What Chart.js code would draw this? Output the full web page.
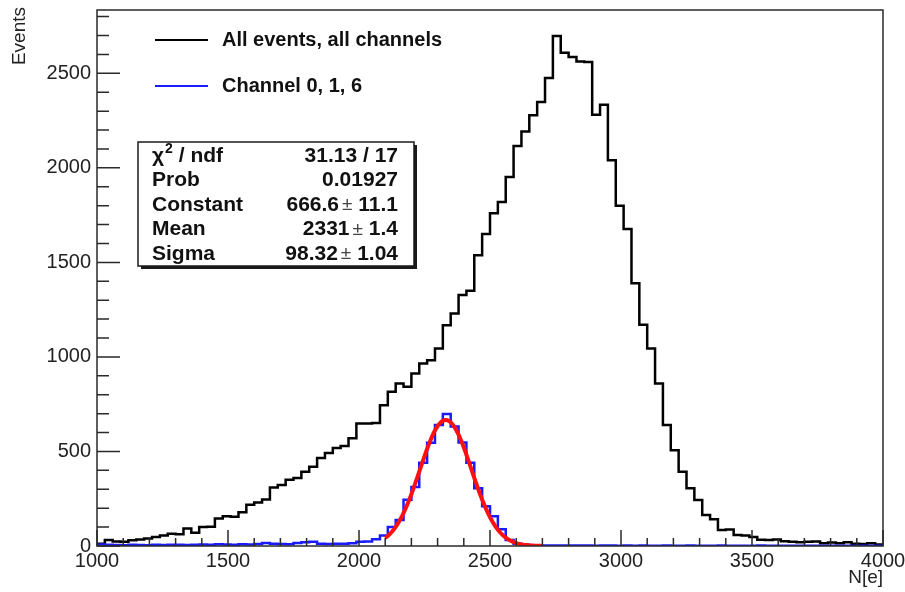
<!DOCTYPE html>
<html lang="en">
<head>
    <meta charset="UTF-8">
    <title>N[e] distribution</title>
    <script src="https://cdn.jsdelivr.net/npm/chart.js"></script>
    <style>
        body {
            margin: 0;
            background-color: #ffffff;
        }

        .chart-container {
            position: relative;
            width: 905px;
            height: 592px;
        }
    </style>
</head>
<body>
    <div class="chart-container">
        <canvas id="histChart" width="905" height="592"></canvas>
    </div>

    <script>
        // Binning: 100 bins of 30 e- between 1000 and 4000
        const xMin = 1000;
        const xMax = 4000;
        const binWidth = 30;
        const yMax = 2835;
        const tickStep = 500;

        const xTickValues = [1000, 1500, 2000, 2500, 3000, 3500, 4000];
        const yTickValues = [0, 500, 1000, 1500, 2000, 2500];

        // Bin contents, all events / all channels
        const allEvents = [
            12, 32, 24, 22, 30, 35, 40, 48, 55, 65,
            62, 92, 70, 100, 102, 145, 158, 155, 178, 218,
            230, 246, 310, 322, 350, 360, 393, 419, 466, 492,
            518, 529, 570, 648, 648, 650, 745, 816, 860, 842,
            913, 965, 983, 1045, 1168, 1230, 1327, 1350, 1538, 1650,
            1760, 1820, 1952, 2116, 2193, 2278, 2348, 2475, 2697, 2609,
            2586, 2562, 2560, 2281, 2334, 2040, 1800, 1677, 1390, 1170,
            1045, 860, 640, 507, 393, 305, 243, 164, 141, 85,
            87, 58, 55, 47, 33, 32, 35, 25, 22, 20,
            22, 24, 15, 18, 14, 20, 12, 10, 14, 8
        ];

        // Bin contents, channels 0, 1, 6
        const channel016 = [
            8, 6, 5, 4, 6, 5, 4, 6, 5, 7,
            6, 5, 7, 8, 6, 9, 8, 7, 9, 8,
            11, 16, 12, 10, 9, 16, 20, 22, 12, 10,
            12, 12, 14, 22, 24, 36, 56, 100, 137, 245,
            312, 440, 546, 640, 698, 632, 548, 440, 306, 210,
            158, 88, 32, 12, 6, 4, 3, 2, 3, 2,
            2, 3, 2, 1, 2, 2, 1, 2, 1, 2,
            1, 1, 2, 1, 1, 2, 1, 1, 1, 2,
            1, 1, 1, 1, 2, 1, 1, 1, 1, 1,
            1, 1, 1, 1, 1, 1, 1, 1, 1, 1
        ];

        // Gaussian fit of channels 0, 1, 6
        const fitConstant = 666.6;
        const fitMean = 2331;
        const fitSigma = 98.32;
        const fitRange = [2100, 2700];
        const fitPoints = 100;

        const legendLabels = ['All events, all channels', 'Channel 0, 1, 6'];
        const legendColors = ['#000000', '#1a1aff'];

        const statsLabels = ['χ', 'Prob', 'Constant', 'Mean', 'Sigma'];
        const statsValues = ['31.13 / 17', '0.01927', '666.6', '2331', '98.32'];
        const statsErrors = ['', '', '11.1', '1.4', '1.04'];

        const FONT = '"Liberation Sans", Arial, Helvetica, sans-serif';

        // histogram -> stepped line points on the bin low edges
        function histPoints(values) {
            const pts = values.map((v, i) => ({ x: xMin + i * binWidth, y: v }));
            pts.push({ x: xMax, y: values[values.length - 1] });
            return pts;
        }

        function gausPoints() {
            const pts = [];
            const dx = (fitRange[1] - fitRange[0]) / fitPoints;
            for (let i = 0; i <= fitPoints; i++) {
                const x = fitRange[0] + i * dx;
                const t = (x - fitMean) / fitSigma;
                pts.push({ x: x, y: fitConstant * Math.exp(-0.5 * t * t) });
            }
            return pts;
        }

        // frame, inner ticks, legend, stats box and axis titles
        const rootDecor = {
            id: 'rootDecor',
            afterDraw(chart) {
                const ctx = chart.ctx;
                const area = chart.chartArea;
                const xs = chart.scales.x;
                const ys = chart.scales.y;

                ctx.save();
                ctx.strokeStyle = '#2a2a2a';
                ctx.lineWidth = 1.5;
                ctx.strokeRect(area.left, area.top, area.right - area.left, area.bottom - area.top);

                // x ticks
                ctx.beginPath();
                for (let v = xMin; v <= xMax; v += 100) {
                    const px = xs.getPixelForValue(v);
                    const len = (v % tickStep === 0) ? 16 : 8;
                    ctx.moveTo(px, area.bottom);
                    ctx.lineTo(px, area.bottom - len);
                }
                // y ticks
                for (let v = 0; v <= yMax; v += 100) {
                    const py = ys.getPixelForValue(v);
                    const len = (v % tickStep === 0) ? 23 : 12;
                    ctx.moveTo(area.left, py);
                    ctx.lineTo(area.left + len, py);
                }
                ctx.stroke();

                // legend
                ctx.textAlign = 'left';
                ctx.textBaseline = 'middle';
                ctx.font = 'bold 20px ' + FONT;
                legendLabels.forEach((label, i) => {
                    const y = 40 + i * 46;
                    ctx.strokeStyle = legendColors[i];
                    ctx.lineWidth = 2;
                    ctx.beginPath();
                    ctx.moveTo(155, y);
                    ctx.lineTo(208, y);
                    ctx.stroke();
                    ctx.fillStyle = '#111';
                    ctx.fillText(label, 222, y);
                });

                // stats box with shadow
                const bx = 138, by = 142, bw = 276, bh = 124;
                ctx.fillStyle = '#1a1a1a';
                ctx.fillRect(bx + 3, by + 3, bw, bh);
                ctx.fillStyle = '#ffffff';
                ctx.fillRect(bx, by, bw, bh);
                ctx.strokeStyle = '#1a1a1a';
                ctx.lineWidth = 1.5;
                ctx.strokeRect(bx, by, bw, bh);

                ctx.fillStyle = '#111';
                statsLabels.forEach((label, i) => {
                    const y = 156 + i * 24.5;
                    ctx.font = 'bold 21px ' + FONT;
                    ctx.textAlign = 'left';
                    ctx.fillText(label, 152, y);
                    if (i === 0) {
                        const w = ctx.measureText(label).width;
                        ctx.font = 'bold 14px ' + FONT;
                        ctx.fillText('2', 152 + w + 1, y - 7);
                        const w2 = ctx.measureText('2').width;
                        ctx.font = 'bold 21px ' + FONT;
                        ctx.fillText(' / ndf', 152 + w + w2 + 1, y);
                    }
                    const right = 398;
                    ctx.textAlign = 'right';
                    if (statsErrors[i]) {
                        ctx.font = 'bold 21px ' + FONT;
                        ctx.fillText(statsErrors[i], right, y);
                        const we = ctx.measureText(' ' + statsErrors[i]).width;
                        ctx.font = '19px ' + FONT;
                        ctx.fillStyle = '#444';
                        ctx.fillText('±', right - we, y);
                        const wp = ctx.measureText('±').width;
                        ctx.fillStyle = '#111';
                        ctx.font = 'bold 21px ' + FONT;
                        ctx.fillText(statsValues[i], right - we - wp - 3, y);
                    } else {
                        ctx.font = 'bold 21px ' + FONT;
                        ctx.fillText(statsValues[i], right, y);
                    }
                });

                // axis titles
                ctx.fillStyle = '#222';
                ctx.font = '19px ' + FONT;
                ctx.textAlign = 'right';
                ctx.textBaseline = 'middle';
                ctx.fillText('N[e]', area.right, 578);
                ctx.translate(20, area.top - 3);
                ctx.rotate(-Math.PI / 2);
                ctx.fillText('Events', 0, 0);
                ctx.restore();
            }
        };

        function drawChart() {
            const ctx = document.getElementById('histChart').getContext('2d');
            new Chart(ctx, {
                type: 'line',
                data: {
                    datasets: [
                        {
                            label: 'gaus',
                            data: gausPoints(),
                            borderColor: '#ff1010',
                            borderWidth: 4,
                            pointRadius: 0,
                            tension: 0,
                            order: 0
                        },
                        {
                            label: legendLabels[1],
                            data: histPoints(channel016),
                            borderColor: legendColors[1],
                            borderWidth: 2.5,
                            pointRadius: 0,
                            stepped: 'before',
                            order: 1
                        },
                        {
                            label: legendLabels[0],
                            data: histPoints(allEvents),
                            borderColor: legendColors[0],
                            borderWidth: 2.5,
                            pointRadius: 0,
                            stepped: 'before',
                            order: 2
                        }
                    ]
                },
                options: {
                    responsive: false,
                    animation: false,
                    layout: {
                        padding: { left: 0, top: 10, right: 22, bottom: 0 }
                    },
                    plugins: {
                        legend: { display: false },
                        tooltip: { enabled: false }
                    },
                    scales: {
                        x: {
                            type: 'linear',
                            min: xMin,
                            max: xMax,
                            grid: { display: false, drawTicks: false },
                            border: { display: false },
                            afterFit: (scale) => {
                                scale.height = 46;
                                scale.paddingLeft = 0;
                                scale.paddingRight = 0;
                            },
                            afterBuildTicks: (scale) => {
                                scale.ticks = xTickValues.map(v => ({ value: v }));
                            },
                            ticks: {
                                autoSkip: false,
                                maxRotation: 0,
                                padding: 3,
                                color: '#222',
                                font: { family: FONT, size: 20 },
                                callback: (v) => String(v)
                            }
                        },
                        y: {
                            min: 0,
                            max: yMax,
                            grid: { display: false, drawTicks: false },
                            border: { display: false },
                            afterFit: (scale) => {
                                scale.width = 97;
                                scale.paddingTop = 0;
                                scale.paddingBottom = 0;
                            },
                            afterBuildTicks: (scale) => {
                                scale.ticks = yTickValues.map(v => ({ value: v }));
                            },
                            ticks: {
                                padding: 6,
                                color: '#222',
                                font: { family: FONT, size: 20 },
                                callback: (v) => String(v)
                            }
                        }
                    }
                },
                plugins: [rootDecor]
            });
        }

        document.addEventListener('DOMContentLoaded', drawChart);
    </script>
</body>
</html>
